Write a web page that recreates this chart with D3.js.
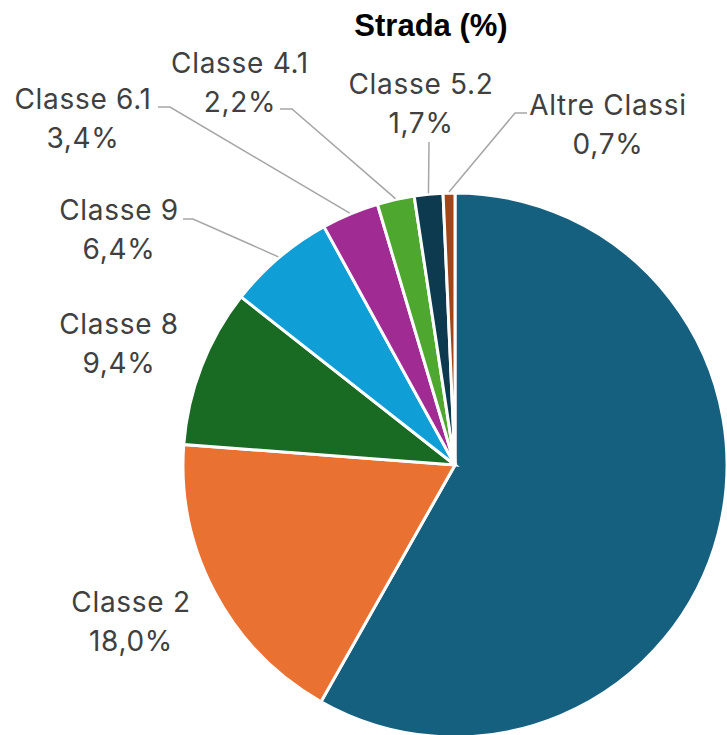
<!DOCTYPE html>
<html>
<head>
<meta charset="utf-8">
<script src="https://cdn.jsdelivr.net/npm/d3@7"></script>
<style>
  html, body { margin: 0; padding: 0; background: #fff; }
  svg { display: block; }
</style>
</head>
<body>
<svg id="chart"></svg>
<script>
// data (Strada, %)
const categories = ['Classe 3', 'Classe 2', 'Classe 8', 'Classe 9', 'Classe 6.1', 'Classe 4.1', 'Classe 5.2', 'Altre Classi']
const values = [58.2, 18.0, 9.4, 6.4, 3.4, 2.2, 1.7, 0.7]
const valueLabels = ['58,2%', '18,0%', '9,4%', '6,4%', '3,4%', '2,2%', '1,7%', '0,7%']
const colors = ['#16607f', '#e97132', '#196b24', '#0f9ed5', '#a02b93', '#4ea72e', '#0e3a4f', '#a0461a']

// label placement (manual, like the original sheet): centre x, first baseline y, leader elbow
const labelLayout = [
  null,
  { x: 131, y: 612 },
  { x: 119, y: 334 },
  { x: 119, y: 220, line: [[183, 219], [193, 219]] },
  { x: 83, y: 109, line: [[158, 107], [170, 107]] },
  { x: 240, y: 73, line: [[280, 109], [292, 109]] },
  { x: 421, y: 94, line: [[429, 142]] },
  { x: 608, y: 115, line: [[527, 113], [515, 113]] }
]

const width = 727
const height = 735
const cx = 455
const cy = 465
const radius = 272
const lineGap = 39

const svg = d3.select('#chart')
  .attr('width', width)
  .attr('height', height)

svg.append('text')
  .attr('x', 431)
  .attr('y', 36)
  .attr('text-anchor', 'middle')
  .style('font-family', '"Liberation Sans", Arial, sans-serif')
  .style('font-weight', 'bold')
  .style('font-size', '31px')
  .style('fill', '#000')
  .text('Strada (%)')

const rows = categories.map((c, i) => ({ name: c, value: values[i], label: valueLabels[i], color: colors[i], layout: labelLayout[i] }))

const pie = d3.pie()
  .value(d => d.value)
  .sort(null)

const arc = d3.arc()
  .innerRadius(0)
  .outerRadius(radius)

const edgeArc = d3.arc()
  .innerRadius(radius + 1)
  .outerRadius(radius + 1)

const arcs = pie(rows)

const g = svg.append('g')
  .attr('transform', `translate(${cx},${cy})`)

g.selectAll('path.slice')
  .data(arcs)
  .enter()
  .append('path')
  .attr('class', 'slice')
  .attr('d', arc)
  .style('fill', d => d.data.color)
  .style('stroke', '#fff')
  .style('stroke-width', 3)
  .style('stroke-linejoin', 'miter')

// leader lines
const withLines = arcs.filter(d => d.data.layout && d.data.layout.line)
svg.selectAll('path.leader')
  .data(withLines)
  .enter()
  .append('path')
  .attr('class', 'leader')
  .attr('d', d => {
    const p = edgeArc.centroid(d)
    const pts = d.data.layout.line.concat([[cx + p[0], cy + p[1]]])
    return d3.line()(pts)
  })
  .style('fill', 'none')
  .style('stroke', '#a6a6a6')
  .style('stroke-width', 1.5)

// labels
const labelled = arcs.filter(d => d.data.layout)
const labels = svg.selectAll('text.lbl')
  .data(labelled)
  .enter()
  .append('text')
  .attr('class', 'lbl')
  .attr('text-anchor', 'middle')
  .style('font-family', 'Inter, "Liberation Sans", sans-serif')
  .style('font-size', '28px')
  .style('letter-spacing', '0.7px')
  .style('fill', '#404040')

labels.append('tspan')
  .attr('x', d => d.data.layout.x)
  .attr('y', d => d.data.layout.y)
  .text(d => d.data.name)

labels.append('tspan')
  .attr('x', d => d.data.layout.x)
  .attr('y', d => d.data.layout.y + lineGap)
  .text(d => d.data.label)
</script>
</body>
</html>
